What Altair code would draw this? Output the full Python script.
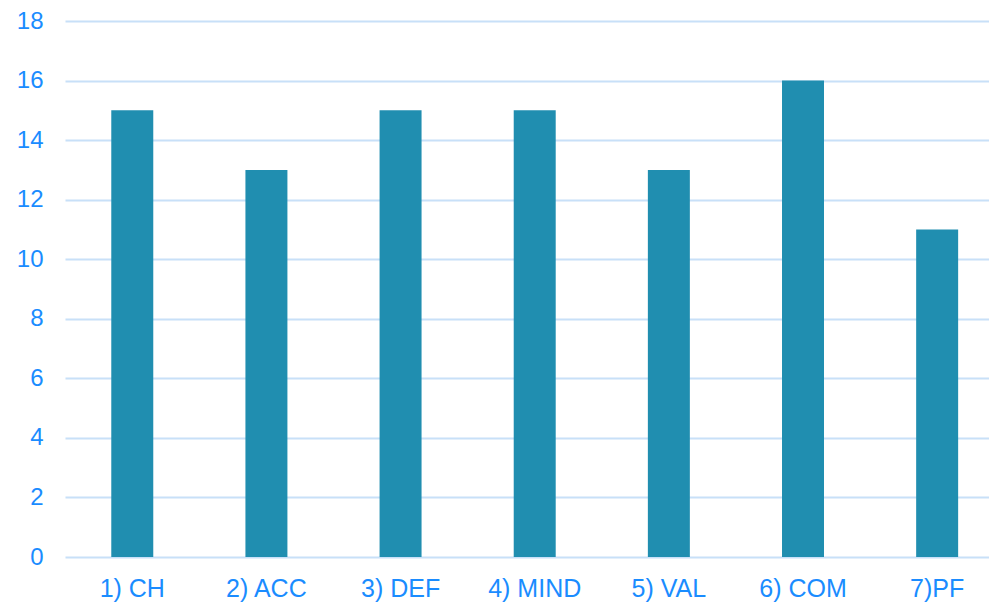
import altair as alt
import pandas as pd

categories = ["1) CH", "2) ACC", "3) DEF", "4) MIND", "5) VAL", "6) COM", "7)PF"]
values = [15, 13, 15, 15, 13, 16, 11]

df = pd.DataFrame({"category": categories, "value": values})

label_color = "#1a8cff"
grid_color = "#c8e0f8"
bar_color = "#208eb0"

chart = (
    alt.Chart(df)
    .mark_bar(color=bar_color)
    .encode(
        x=alt.X(
            "category:N",
            sort=categories,
            title=None,
            scale=alt.Scale(paddingInner=0.687, paddingOuter=0.2875, align=0.6),
            axis=alt.Axis(
                labelAngle=0,
                labelFont="Liberation Sans",
                labelFontSize=25,
                labelColor=label_color,
                labelPadding=19,
                domain=False,
                ticks=False,
                grid=False,
            ),
        ),
        y=alt.Y(
            "value:Q",
            title=None,
            scale=alt.Scale(domain=[0, 18], nice=False),
            axis=alt.Axis(
                values=list(range(0, 19, 2)),
                labelFont="Liberation Sans",
                labelFontSize=24,
                labelColor=label_color,
                labelPadding=22,
                domain=False,
                ticks=False,
                grid=True,
                gridColor=grid_color,
                gridWidth=2,
            ),
        ),
    )
    .properties(
        width=924,
        height=536,
        autosize=alt.AutoSizeParams(type="none"),
        padding={"left": 65, "top": 21, "right": 0, "bottom": 49},
    )
    .configure(background="white")
    .configure_view(stroke="transparent", strokeWidth=0)
)

chart.save("out.html", embed_options={"renderer": "svg", "actions": False})
